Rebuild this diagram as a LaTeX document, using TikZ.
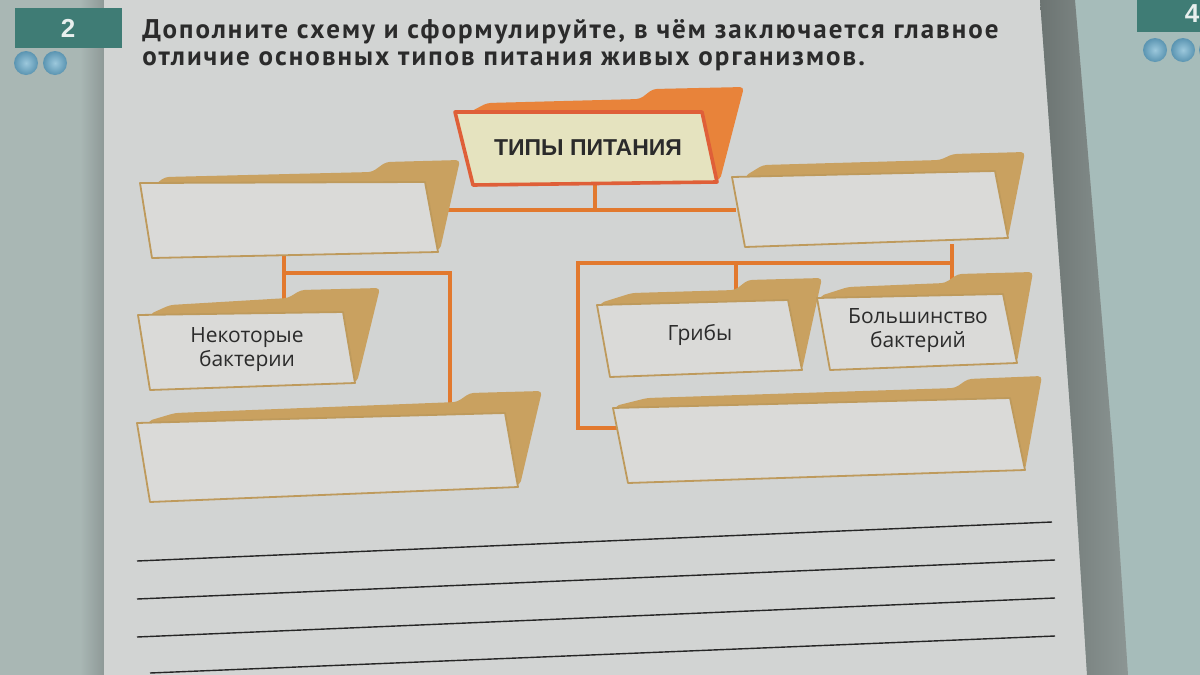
\documentclass[tikz,border=0pt]{standalone}
\usepackage{fontspec}
\setmainfont{Open Sans}
\newfontfamily\titlefont[LetterSpace=7.5]{PT Sans}
\newfontfamily\headfont{Liberation Sans}
\definecolor{pagecol}{HTML}{D2D4D3}
\definecolor{margincol}{HTML}{A9B7B4}
\definecolor{marginedge}{HTML}{8E9997}
\definecolor{nextpage}{HTML}{A6BCBA}
\definecolor{shadowdark}{HTML}{6C7472}
\definecolor{shadowlight}{HTML}{8C9694}
\definecolor{tealbox}{HTML}{3F7C75}
\definecolor{ballin}{HTML}{9CC8DC}
\definecolor{ballout}{HTML}{5A94B1}
\definecolor{tanback}{HTML}{C9A160}
\definecolor{tanedge}{HTML}{BE9A5C}
\definecolor{frontcol}{HTML}{DADAD8}
\definecolor{orback}{HTML}{E8833A}
\definecolor{cream}{HTML}{E5E3BF}
\definecolor{redor}{HTML}{DF5F38}
\definecolor{conncol}{HTML}{E2792E}
\definecolor{inkcol}{HTML}{2B2B2B}
\tikzset{
  backshape/.style={fill=tanback, rounded corners=2pt},
  frontshape/.style={fill=frontcol, draw=tanedge, line width=0.9pt, line join=round},
  conn/.style={draw=conncol, line width=1.6pt},
  label/.style={font=\fontsize{10.5}{12}\selectfont, text=inkcol, align=center, inner sep=0pt},
  titletext/.style={anchor=base west, inner sep=0pt, text=inkcol, font=\titlefont\bfseries\fontsize{13.5}{15}\selectfont},
  rule/.style={draw=black!85, line width=0.7pt},
  ball/.style={inner color=ballin, outer color=ballout}
}
\begin{document}
\begin{tikzpicture}[x=0.5pt,y=-0.5pt]
\useasboundingbox (0,0) rectangle (1200,675);
% background
\fill[margincol] (0,0) rectangle (1200,675);
\shade[left color=margincol, right color=marginedge] (80,0) rectangle (104,675);
\fill[pagecol] (104,0) -- (1040,0) -- (1073,450) -- (1087,675) -- (104,675) -- cycle;
\fill[nextpage] (1075,0) -- (1200,0) -- (1200,675) -- (1128,675) -- (1113,450) -- cycle;
\shade[left color=shadowdark, right color=shadowlight] (1040,0) -- (1075,0) -- (1113,450) -- (1128,675) -- (1087,675) -- (1073,450) -- cycle;
% task number boxes
\fill[tealbox] (15,8) rectangle (122,48);
\node[font=\headfont\bfseries\fontsize{13}{13}\selectfont, text=white!88!tealbox] (num2) at (68,28) {2};
\shade[ball] (26,63) circle (12);
\shade[ball] (55,63) circle (12);
\fill[tealbox] (1137,0) rectangle (1200,32);
\node[font=\headfont\bfseries\fontsize{13}{13}\selectfont, text=white!88!tealbox] (num4) at (1192,14) {4};
\shade[ball] (1155,50) circle (12);
\shade[ball] (1183,50) circle (12);
\shade[ball] (1211,50) circle (12);
% title
\node[titletext] (t1) at (142,38) {Дополните схему и сформулируйте, в чём заключается главное};
\node[titletext] (t2) at (142,65) {отличие основных типов питания живых организмов.};
% connector coordinates
\coordinate (topS) at (595,184);
\coordinate (hub) at (595,210);
\coordinate (L1e) at (445,210);
\coordinate (R1w) at (736,210);
\coordinate (L1s) at (284,255);
\coordinate (Lj) at (284,273);
\coordinate (L2n) at (284,300);
\coordinate (Lc) at (450,273);
\coordinate (L3n) at (450,405);
\coordinate (R1s) at (952,244);
\coordinate (Rj) at (952,263);
\coordinate (R3n) at (952,282);
\coordinate (R2j) at (736,263);
\coordinate (R2n) at (736,292);
\coordinate (Rc1) at (578,263);
\coordinate (Rc2) at (578,428);
\coordinate (R4w) at (620,428);
% connectors
\draw[conn] (topS) -- (hub);
\draw[conn] (L1e) -- (R1w);
\draw[conn] (L1s) -- (L2n);
\draw[conn] (Lj) -- (Lc) -- (L3n);
\draw[conn] (R1s) -- (R3n);
\draw[conn] (Rj) -- (Rc1) -- (Rc2) -- (R4w);
\draw[conn] (R2j) -- (R2n);
% top folder
\fill[orback, rounded corners=2pt] (470,112) -- (487,103) -- (640,99) -- (653,89) -- (744,87) -- (720,180) -- (475,184) -- cycle;
\filldraw[fill=cream, draw=redor, line width=1.8pt, line join=round] (455,112) -- (702,112) -- (717,182) -- (473,185) -- cycle;
\node[font=\headfont\bfseries\fontsize{11.5}{12}\selectfont, text=inkcol] (top) at (588,148) {ТИПЫ ПИТАНИЯ};
% L1
\fill[backshape] (148,190) -- (165,177) -- (372,172) -- (386,162) -- (460,160) -- (440,250) -- (160,255) -- cycle;
\filldraw[frontshape] (140,183) -- (425,182) -- (438,252) -- (152,258) -- cycle;
\node (L1) at (289,219) {};
% L2
\fill[backshape] (150,314) -- (170,305) -- (288,298) -- (301,290) -- (380,288) -- (357,382) -- (160,388) -- cycle;
\filldraw[frontshape] (138,315) -- (343,312) -- (355,383) -- (150,390) -- cycle;
\node[label] (L2) at (247,350) {Некоторые\\бактерии};
% L3
\fill[backshape] (148,421) -- (175,413) -- (457,402) -- (470,393) -- (542,391) -- (520,485) -- (160,500) -- cycle;
\filldraw[frontshape] (137,423) -- (505,413) -- (518,487) -- (150,502) -- cycle;
\node (L3) at (328,456) {};
% R1
\fill[backshape] (745,176) -- (763,165) -- (940,160) -- (953,154) -- (1025,152) -- (1008,238) -- (750,245) -- cycle;
\filldraw[frontshape] (732,177) -- (995,171) -- (1008,238) -- (745,247) -- cycle;
\node (R1) at (870,208) {};
% R2
\fill[backshape] (600,303) -- (632,293) -- (735,290) -- (748,280) -- (822,278) -- (802,370) -- (610,375) -- cycle;
\filldraw[frontshape] (597,305) -- (788,300) -- (802,370) -- (610,377) -- cycle;
\node[label] (R2) at (700,335) {Грибы};
% R3
\fill[backshape] (820,296) -- (848,287) -- (945,283) -- (958,274) -- (1033,272) -- (1017,362) -- (830,368) -- cycle;
\filldraw[frontshape] (817,298) -- (1003,294) -- (1017,363) -- (830,370) -- cycle;
\node[label] (R3) at (918,331) {Большинство\\бактерий};
% R4
\fill[backshape] (615,406) -- (647,398) -- (955,388) -- (968,379) -- (1042,376) -- (1025,470) -- (628,480) -- cycle;
\filldraw[frontshape] (613,408) -- (1010,398) -- (1025,470) -- (628,483) -- cycle;
\node (R4) at (820,440) {};
% writing lines
\draw[rule] (137,561) -- (1052,522);
\draw[rule] (137,599) -- (1055,560);
\draw[rule] (137,637) -- (1055,598);
\draw[rule] (150,673) -- (1055,636);
\end{tikzpicture}
\end{document}
